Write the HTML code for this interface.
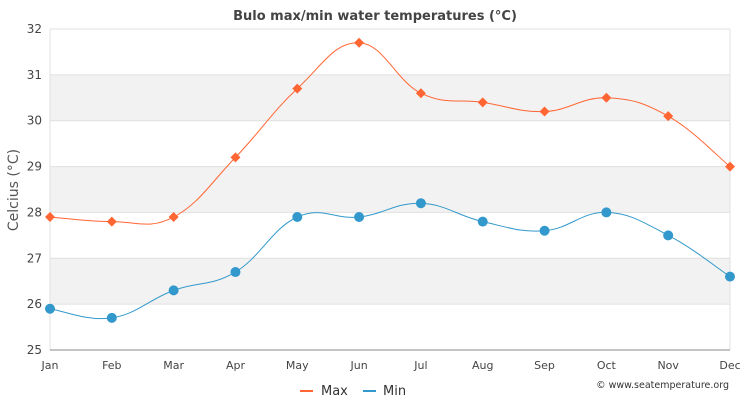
<!DOCTYPE html>
<html><head><meta charset="utf-8"><style>
body{margin:0;background:#fff}
svg{display:block;font-family:"DejaVu Sans","Liberation Sans",sans-serif}
</style></head><body>
<svg id="s" width="750" height="400" viewBox="0 0 750 400">
<rect width="750" height="400" fill="#fff"/>
<g id="bands"></g>
<text x="375" y="20" text-anchor="middle" font-size="13" font-weight="bold" fill="#444">Bulo max/min water temperatures (°C)</text>
<text transform="translate(18,190) rotate(-90)" text-anchor="middle" font-size="14" fill="#555">Celcius (°C)</text>
<g id="yl" font-size="12" fill="#444" text-anchor="end"></g>
<g id="xl" font-size="11" fill="#444" text-anchor="middle"></g>
<line x1="50" y1="350" x2="730" y2="350" stroke="#888" stroke-width="1"/>
<path id="pmax" fill="none" stroke="#ff6633" stroke-width="1"/>
<path id="pmin" fill="none" stroke="#3399cc" stroke-width="1"/>
<g id="mk"></g>
<line x1="300" y1="391" x2="313" y2="391" stroke="#ff6633" stroke-width="2"/>
<text x="321" y="395" font-size="13" fill="#333">Max</text>
<line x1="363" y1="391" x2="376" y2="391" stroke="#3399cc" stroke-width="2"/>
<text x="383" y="395" font-size="13" fill="#333">Min</text>
<text x="729" y="388" font-size="9.5" fill="#333" text-anchor="end">© www.seatemperature.org</text>
</svg>
<script>
const X=i=>50+i*(680/11), Y=v=>350-(v-25)*45.857;
const ns="http://www.w3.org/2000/svg";
function el(t,a,p){const e=document.createElementNS(ns,t);for(const k in a)e.setAttribute(k,a[k]);document.getElementById(p).appendChild(e);return e;}
for(let v=25;v<=32;v++){
 if(v<32&&(v%2==0)) el('rect',{x:50,y:Y(v+1),width:680,height:45.857,fill:'#f2f2f2'},'bands');
 el('line',{x1:50,x2:730,y1:Y(v),y2:Y(v),stroke:'#e0e0e0'},'bands');
 const t=el('text',{x:42,y:Y(v)+4},'yl');t.textContent=v;
}
el('line',{x1:50,x2:50,y1:29,y2:350,stroke:'#e0e0e0'},'bands');
el('line',{x1:730,x2:730,y1:29,y2:350,stroke:'#e0e0e0'},'bands');
"Jan Feb Mar Apr May Jun Jul Aug Sep Oct Nov Dec".split(" ").forEach((m,i)=>{const t=el('text',{x:X(i),y:369},'xl');t.textContent=m;});
const mx=[27.9,27.8,27.9,29.2,30.7,31.7,30.6,30.4,30.2,30.5,30.1,29.0];
const mn=[25.9,25.7,26.3,26.7,27.9,27.9,28.2,27.8,27.6,28.0,27.5,26.6];
function path(d){const p=d.map((v,i)=>[X(i),Y(v)]);let s=`M${p[0][0]},${p[0][1]}`;
 for(let i=0;i<p.length-1;i++){const p0=p[Math.max(i-1,0)],p1=p[i],p2=p[i+1],p3=p[Math.min(i+2,p.length-1)];const k=0.2;
 s+=` C${p1[0]+(p2[0]-p0[0])*k},${p1[1]+(p2[1]-p0[1])*k} ${p2[0]-(p3[0]-p1[0])*k},${p2[1]-(p3[1]-p1[1])*k} ${p2[0]},${p2[1]}`;}return s;}
document.getElementById('pmax').setAttribute('d',path(mx));
document.getElementById('pmin').setAttribute('d',path(mn));
mx.forEach((v,i)=>{const x=X(i),y=Y(v);el('polygon',{points:`${x},${y-5} ${x+5},${y} ${x},${y+5} ${x-5},${y}`,fill:'#ff6633'},'mk');});
mn.forEach((v,i)=>{el('circle',{cx:X(i),cy:Y(v),r:5,fill:'#3399cc'},'mk');});
</script>
</body></html>
